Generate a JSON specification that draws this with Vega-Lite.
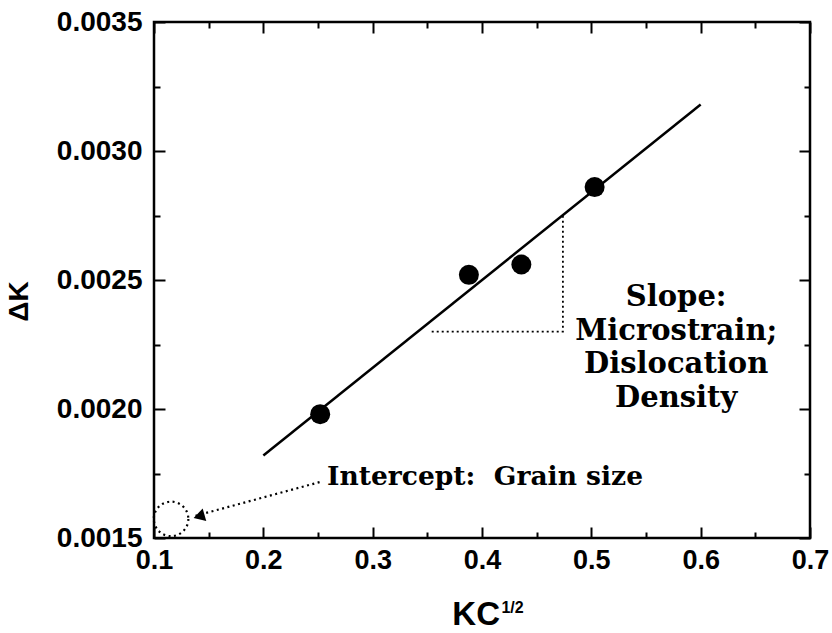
{
  "$schema": "https://vega.github.io/schema/vega-lite/v6.json",
  "width": 656,
  "height": 516,
  "autosize": "none",
  "padding": {"left": 154, "top": 22, "right": 22, "bottom": 95},
  "background": "white",
  "config": {
    "view": {"stroke": "black", "strokeWidth": 2.5},
    "axis": {
      "domain": false,
      "grid": false,
      "tickColor": "black",
      "tickWidth": 2,
      "labelColor": "black",
      "labelFont": "Liberation Sans",
      "labelFontWeight": "bold",
      "labelFlush": false,
      "labelOverlap": false,
      "titleFont": "Liberation Sans",
      "titleFontWeight": "bold",
      "titleColor": "black"
    }
  },
  "resolve": {"axis": {"x": "independent", "y": "independent"}},
  "layer": [
    {
      "data": {"values": [{"x": 0.2, "y": 0.00182}, {"x": 0.6, "y": 0.00318}]},
      "mark": {"type": "line", "color": "black", "strokeWidth": 2.5},
      "encoding": {
        "x": {"field": "x", "type": "quantitative", "scale": {"domain": [0.1, 0.7], "nice": false, "zero": false},
          "axis": {"orient": "top", "labels": false, "title": null,
            "values": [0.1, 0.15, 0.2, 0.25, 0.3, 0.35, 0.4, 0.45, 0.5, 0.55, 0.6, 0.65, 0.7],
            "tickSize": {"condition": {"test": "abs(datum.value*10 - round(datum.value*10)) < 0.001", "value": -11}, "value": -6}}},
        "y": {"field": "y", "type": "quantitative", "scale": {"domain": [0.0015, 0.0035], "nice": false, "zero": false},
          "axis": {"orient": "right", "labels": false, "title": null,
            "values": [0.0015, 0.00175, 0.002, 0.00225, 0.0025, 0.00275, 0.003, 0.00325, 0.0035],
            "tickSize": {"condition": {"test": "abs(datum.value*2000 - round(datum.value*2000)) < 0.001", "value": -11}, "value": -6}}}
      }
    },
    {
      "data": {"values": [{"x": 0.354, "y": 0.0023, "o": 1}, {"x": 0.474, "y": 0.0023, "o": 2}, {"x": 0.474, "y": 0.00275, "o": 3}]},
      "mark": {"type": "line", "color": "black", "strokeWidth": 1.8, "strokeDash": [2, 3]},
      "encoding": {
        "x": {"field": "x", "type": "quantitative", "axis": null},
        "y": {"field": "y", "type": "quantitative", "axis": null},
        "order": {"field": "o", "type": "quantitative"}
      }
    },
    {
      "data": {"values": [{"x": 0.2519, "y": 0.001717}, {"x": 0.138, "y": 0.001586}]},
      "mark": {"type": "line", "color": "black", "strokeWidth": 2.2, "strokeDash": [2, 3.5]},
      "encoding": {
        "x": {"field": "x", "type": "quantitative", "axis": null},
        "y": {"field": "y", "type": "quantitative", "axis": null}
      }
    },
    {
      "data": {"values": [{"x": 0.1412, "y": 0.001584}]},
      "mark": {"type": "point", "shape": "triangle-left", "filled": true, "color": "black", "opacity": 1, "size": 170, "angle": 344},
      "encoding": {
        "x": {"field": "x", "type": "quantitative", "axis": null},
        "y": {"field": "y", "type": "quantitative", "axis": null}
      }
    },
    {
      "data": {"values": [{"x": 0.1156, "y": 0.001574}]},
      "mark": {"type": "point", "shape": "circle", "filled": false, "color": "black", "opacity": 1, "size": 1195, "strokeWidth": 2.2, "strokeDash": [2, 3.5]},
      "encoding": {
        "x": {"field": "x", "type": "quantitative", "axis": null},
        "y": {"field": "y", "type": "quantitative", "axis": null}
      }
    },
    {
      "data": {"values": [{"x": 0.252, "y": 0.00198}, {"x": 0.388, "y": 0.00252}, {"x": 0.436, "y": 0.00256}, {"x": 0.503, "y": 0.00286}]},
      "mark": {"type": "circle", "color": "black", "opacity": 1, "size": 400},
      "encoding": {
        "x": {"field": "x", "type": "quantitative",
          "axis": {"orient": "bottom", "title": null, "labelFontSize": 27, "labelPadding": 20,
            "values": [0.1, 0.15, 0.2, 0.25, 0.3, 0.35, 0.4, 0.45, 0.5, 0.55, 0.6, 0.65, 0.7],
            "labelExpr": "abs(datum.value*10 - round(datum.value*10)) < 0.001 ? format(datum.value, '.1f') : ''",
            "tickSize": {"condition": {"test": "abs(datum.value*10 - round(datum.value*10)) < 0.001", "value": -11}, "value": -6}}},
        "y": {"field": "y", "type": "quantitative",
          "axis": {"orient": "left", "title": "ΔK", "titleFontSize": 28, "titlePadding": 23, "titleY": 279, "labelFontSize": 28, "labelPadding": 23,
            "values": [0.0015, 0.00175, 0.002, 0.00225, 0.0025, 0.00275, 0.003, 0.00325, 0.0035],
            "labelExpr": "abs(datum.value*2000 - round(datum.value*2000)) < 0.001 ? format(datum.value, '.4f') : ''",
            "tickSize": {"condition": {"test": "abs(datum.value*2000 - round(datum.value*2000)) < 0.001", "value": -11}, "value": -6}}}
      }
    },
    {
      "data": {"values": [{"label": "Slope:\nMicrostrain;\nDislocation\nDensity", "x": 0.5776, "y": 0.002399}]},
      "mark": {"type": "text", "font": "DejaVu Serif", "fontWeight": "bold", "fontSize": 29, "align": "center", "baseline": "alphabetic", "lineBreak": "\n", "lineHeight": 33.6, "color": "black"},
      "encoding": {
        "x": {"field": "x", "type": "quantitative", "axis": null},
        "y": {"field": "y", "type": "quantitative", "axis": null},
        "text": {"field": "label"}
      }
    },
    {
      "data": {"values": [{"label": "Intercept:\u00a0 Grain size", "x": 0.2583, "y": 0.001705}]},
      "mark": {"type": "text", "font": "DejaVu Serif", "fontWeight": "bold", "fontSize": 26.5, "align": "left", "baseline": "alphabetic", "color": "black"},
      "encoding": {
        "x": {"field": "x", "type": "quantitative", "axis": null},
        "y": {"field": "y", "type": "quantitative", "axis": null},
        "text": {"field": "label"}
      }
    },
    {
      "data": {"values": [{"label": "KC", "x": 0.4165, "y": 0.001163}]},
      "mark": {"type": "text", "font": "Liberation Sans", "fontWeight": "bold", "fontSize": 33, "align": "right", "baseline": "alphabetic", "color": "black"},
      "encoding": {
        "x": {"field": "x", "type": "quantitative", "axis": null},
        "y": {"field": "y", "type": "quantitative", "axis": null},
        "text": {"field": "label"}
      }
    },
    {
      "data": {"values": [{"label": "1/2", "x": 0.4178, "y": 0.001209}]},
      "mark": {"type": "text", "font": "Liberation Sans", "fontWeight": "bold", "fontSize": 16, "align": "left", "baseline": "alphabetic", "color": "black"},
      "encoding": {
        "x": {"field": "x", "type": "quantitative", "axis": null},
        "y": {"field": "y", "type": "quantitative", "axis": null},
        "text": {"field": "label"}
      }
    }
  ]
}
